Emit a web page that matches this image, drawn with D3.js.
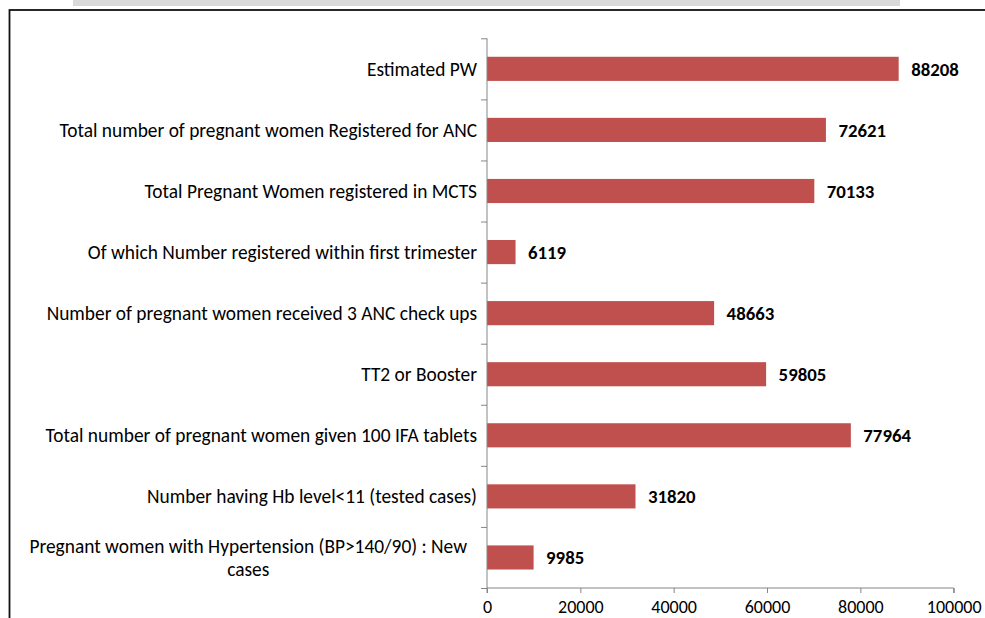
<!DOCTYPE html>
<html>
<head>
<meta charset="utf-8">
<script src="https://cdn.jsdelivr.net/npm/d3@7"></script>
<style>
  body { margin: 0; background: #fff; }
  svg { display: block; }
  text { font-family: Carlito, Calibri, Lato, sans-serif; fill: #000; }
</style>
</head>
<body>
<div id="chart"></div>
<script>
// chart data
var categories = [
	"Estimated PW",
	"Total number of pregnant women Registered for ANC",
	"Total Pregnant Women registered in MCTS",
	"Of which Number registered within first trimester",
	"Number of pregnant women received 3 ANC check ups",
	"TT2 or Booster",
	"Total number of pregnant women given 100 IFA tablets",
	"Number having Hb level<11 (tested cases)",
	"Pregnant women with Hypertension (BP>140/90) : New cases"
];
var values = [88208, 72621, 70133, 6119, 48663, 59805, 77964, 31820, 9985];
var xTicks = [0, 20000, 40000, 60000, 80000, 100000];

var W = 985, H = 618;

var svg = d3.select("#chart")
	.append("svg")
	.attr("width", W)
	.attr("height", H);

// grey banner left over from the slide title
svg.append("rect")
	.attr("x", 73).attr("y", 0)
	.attr("width", 827).attr("height", 6)
	.attr("fill", "#d9d9d9");

// chart frame (runs off the page right and bottom)
svg.append("rect")
	.attr("x", 9.5).attr("y", 10)
	.attr("width", 1000).attr("height", 700)
	.attr("fill", "none")
	.attr("stroke", "#111")
	.attr("stroke-width", 1.8);

var x = d3.scaleLinear()
	.domain([0, 100000])
	.range([487, 953.7]);

var y = d3.scaleBand()
	.domain(categories)
	.range([38.3, 588])
	.padding(0);

var axisColor = "#868686";

// bars
var barH = y.bandwidth() * 0.395;
svg.selectAll(".bar")
	.data(values)
	.enter()
	.append("rect")
	.attr("class", "bar")
	.attr("x", x(0))
	.attr("y", function(d, i){ return y(categories[i]) + (y.bandwidth() - barH) / 2; })
	.attr("width", function(d){ return x(d) - x(0); })
	.attr("height", barH)
	.attr("fill", "#c0504d");

// value labels
svg.selectAll(".val")
	.data(values)
	.enter()
	.append("text")
	.attr("class", "val")
	.attr("x", function(d){ return x(d) + 12.5; })
	.attr("y", function(d, i){ return y(categories[i]) + y.bandwidth() / 2; })
	.attr("dy", "0.36em")
	.style("font-size", "18.8px")
	.style("font-weight", "bold")
	.text(function(d){ return d; });

// x axis
var xAxis = svg.append("g")
	.attr("transform", "translate(0," + 588 + ")")
	.call(d3.axisBottom(x).tickValues(xTicks).tickSize(5).tickPadding(7).tickFormat(d3.format("d")));
xAxis.select(".domain").attr("stroke", axisColor).attr("d", "M" + x(0) + ",5V0H" + x(100000) + "V5");
xAxis.selectAll(".tick line").attr("stroke", axisColor);
xAxis.selectAll(".tick text")
	.style("font-size", "18px")
	.attr("font-family", null)
	.attr("fill", "#000");

// y axis: ticks sit between categories
var yEdge = d3.scaleLinear().domain([0, categories.length]).range([38.3, 588]);
var yAxis = svg.append("g")
	.attr("transform", "translate(" + x(0) + ",0)")
	.call(d3.axisLeft(yEdge).tickValues(d3.range(categories.length + 1)).tickSize(6).tickFormat(""));
yAxis.select(".domain").attr("stroke", axisColor).attr("d", "M0,38.3V588");
yAxis.selectAll(".tick line").attr("stroke", axisColor);

// category labels, wrapped when too long
var fs = 19.4, maxLabel = 440, lh = 23;
var labels = svg.selectAll(".cat")
	.data(categories)
	.enter()
	.append("text")
	.attr("class", "cat")
	.style("font-size", fs + "px")
	.attr("y", function(d){ return y(d) + y.bandwidth() / 2; });

labels.each(function(d){
	var t = d3.select(this);
	var words = d.split(" ");
	var lines = [], line = [];
	var probe = t.append("tspan");
	words.forEach(function(w){
		line.push(w);
		probe.text(line.join(" "));
		if (probe.node().getComputedTextLength() > maxLabel && line.length > 1) {
			line.pop();
			lines.push(line.join(" "));
			line = [w];
		}
	});
	lines.push(line.join(" "));
	probe.remove();

	if (lines.length == 1) {
		t.attr("x", 477).attr("text-anchor", "end").attr("dy", "0.35em").text(lines[0]);
	} else {
		// centred block, right edge near the axis
		var widest = 0;
		lines.forEach(function(l){
			var s = t.append("tspan").text(l);
			widest = Math.max(widest, s.node().getComputedTextLength());
			s.remove();
		});
		var cx = 467 - widest / 2;
		t.attr("text-anchor", "middle");
		lines.forEach(function(l, k){
			t.append("tspan")
				.attr("x", cx)
				.attr("dy", k == 0 ? (0.35 * fs - (lines.length - 1) / 2 * lh) + "px" : lh + "px")
				.text(l);
		});
	}
});
</script>
</body>
</html>
